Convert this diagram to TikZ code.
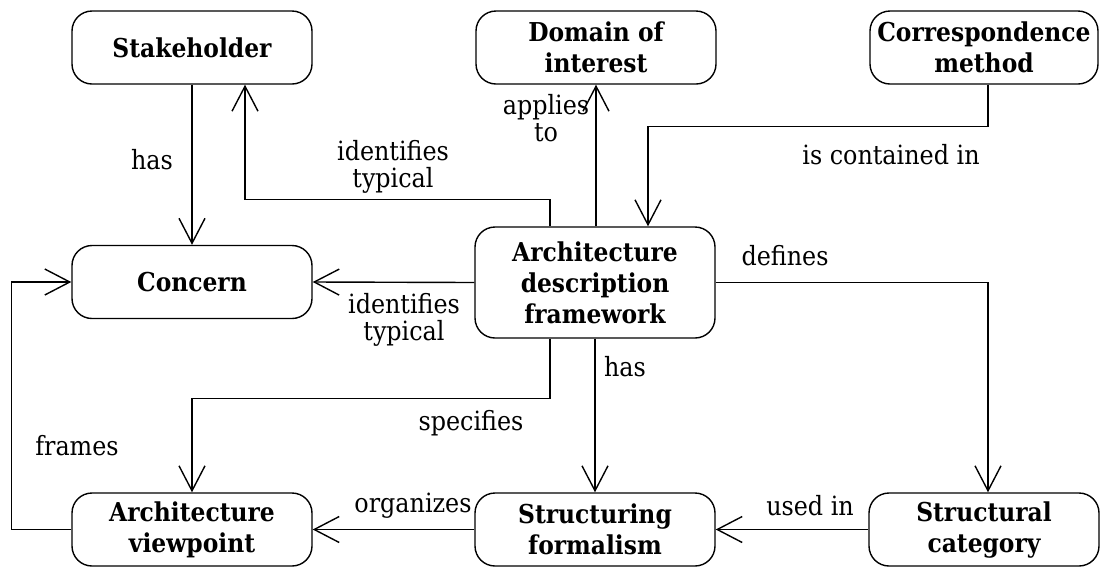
\documentclass[tikz,border=0pt]{standalone}
\usepackage{fontspec}
\setmainfont{DejaVu Serif Condensed}
\usetikzlibrary{arrows.meta,positioning}
\begin{document}
\begin{tikzpicture}[x=1pt,y=-1pt,
  box/.style={draw,line width=1.4pt,rounded corners=20pt,minimum width=240pt,minimum height=73pt,
    align=center,font=\fontsize{26}{31}\selectfont\bfseries,inner sep=0pt},
  arr/.style={line width=1.4pt,-{Straight Barb[length=25pt,width=26pt,line width=1.4pt]}},
  lbl/.style={font=\fontsize{26.5}{27}\selectfont,align=center,inner sep=0pt}]
\useasboundingbox (0,0) rectangle (1100,566);
\node[box] (stake) at (192,47.5) {Stakeholder};
\node[box] (domain) at (596,47.5) {Domain of\\interest};
\node[box,minimum width=228pt] (corr) at (984,47.5) {Correspondence\\method};
\node[box] (concern) at (192,282) {Concern};
\node[box,minimum height=111pt] (adf) at (595,282.5) {Architecture\\description\\framework};
\node[box] (vp) at (192,529.5) {Architecture\\viewpoint};
\node[box] (sf) at (595,529.5) {Structuring\\formalism};
\node[box,minimum width=230pt] (sc) at (984,529.5) {Structural\\category};

\draw[arr] (stake) -- (concern);
\node[lbl] (l1) at (152,160) {has};
\draw[arr] ([xshift=-45pt]adf.north) -- ++(0,-27) -| ([xshift=53pt]stake.south);
\node[lbl] (l2) at (393,167) {identifies\\typical};
\draw[arr] ([xshift=1pt]adf.north) -- ([xshift=1pt]adf.north |- domain.south);
\node[lbl] (l3) at (546,118) {applies\\to};
\draw[arr] ([xshift=4pt]corr.south) -- ++(0,42) -| ([xshift=53pt]adf.north);
\node[lbl] (l4) at (891,155) {is contained in};
\draw[arr] (adf.west) -- (concern.east);
\node[lbl] (l5) at (404,320) {identifies\\typical};
\draw[arr] (adf.east) -| ([xshift=4pt]sc.north);
\node[lbl] (l6) at (785,256) {defines};
\draw[arr] (adf.south) -- (sf.north);
\node[lbl] (l7) at (625,367) {has};
\draw[arr] ([xshift=-45pt]adf.south) -- ++(0,60) -| (vp.north);
\node[lbl] (l8) at (471,423) {specifies};
\draw[arr] (vp.west) -- ++(-60,0) |- (concern.west);
\node[lbl] (l9) at (77,446) {frames};
\draw[arr] (sf.west) -- (vp.east);
\node[lbl] (l10) at (413,506) {organizes};
\draw[arr] (sc.west) -- (sf.east);
\node[lbl] (l11) at (810,506) {used in};
\end{tikzpicture}
\end{document}
